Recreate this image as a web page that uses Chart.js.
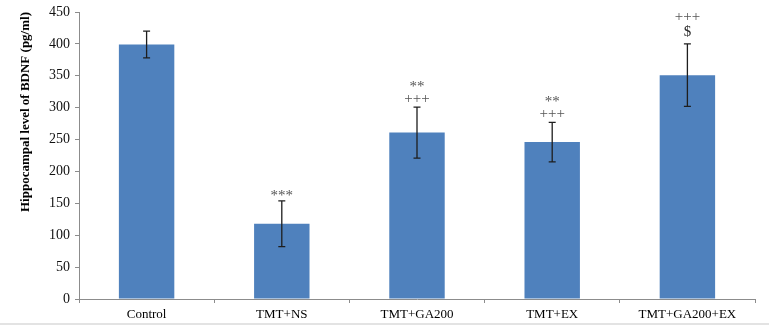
<!DOCTYPE html>
<html lang="en">
<head>
  <meta charset="UTF-8" />
  <title>Hippocampal BDNF</title>
  <script src="https://cdn.jsdelivr.net/npm/chart.js@4.4.3/dist/chart.umd.js"></script>
  <style>
    *{box-sizing:border-box;margin:0;padding:0}
    body{background:#fff;width:769px;height:327px;overflow:hidden;position:relative}
    #wrap{position:absolute;left:0;top:0;width:769px;height:327px}
    .rule{position:absolute;left:0;top:323px;width:769px;height:2px;background:#e3e3e3}
  </style>
</head>
<body>
  <div id="wrap"><canvas id="bdnf" width="769" height="327"></canvas></div>
  <div class="rule"></div>

  <script>
    /* ==== DATA ==== */
    const groups  = ['Control', 'TMT+NS', 'TMT+GA200', 'TMT+EX', 'TMT+GA200+EX'];
    const bdnf    = [399, 118, 261, 246, 351];
    const bdnfErr = [21, 36, 40, 31, 49];
    // significance marks, listed bottom line first
    const marks   = [[], ['***'], ['+++', '**'], ['+++', '**'], ['$', '+++']];
    const yTicks  = [0, 50, 100, 150, 200, 250, 300, 350, 400, 450];

    const SERIF = '"Liberation Serif", "Times New Roman", serif';
    const AXIS_GREY = '#8c8c8c';

    /* ==== error bars + marks ==== */
    const errorBars = {
      id: 'errorBars',
      afterDatasetsDraw(chart){
        const {ctx, scales:{y}} = chart;
        const meta = chart.getDatasetMeta(0);
        ctx.save();
        meta.data.forEach((bar, i) => {
          const x = bar.x;
          const top = y.getPixelForValue(bdnf[i] + bdnfErr[i]);
          const bot = y.getPixelForValue(bdnf[i] - bdnfErr[i]);
          ctx.strokeStyle = '#1e1e1e';
          ctx.lineWidth = 1.3;
          ctx.beginPath();
          ctx.moveTo(x, top); ctx.lineTo(x, bot);
          ctx.moveTo(x - 3.5, top); ctx.lineTo(x + 3.5, top);
          ctx.moveTo(x - 3.5, bot); ctx.lineTo(x + 3.5, bot);
          ctx.stroke();

          ctx.textAlign = 'center';
          ctx.textBaseline = 'middle';
          let yy = top - 8;
          marks[i].forEach((m, k) => {
            const isDollar = m === '$';
            if (isDollar) yy = top - 12;
            ctx.fillStyle = isDollar ? '#2a2a2a' : '#555';
            ctx.font = '15px ' + SERIF;
            const star = m.indexOf('*') >= 0;
            ctx.fillText(m, x, yy + (star ? 3 : 0));
            yy -= 15;
          });
        });
        ctx.restore();
      }
    };

    /* ==== CHART ==== */
    new Chart(document.getElementById('bdnf'), {
      type: 'bar',
      data: {
        labels: groups,
        datasets: [{
          data: bdnf,
          backgroundColor: '#4f81bd',
          borderWidth: 0,
          categoryPercentage: 1,
          barPercentage: 0.41
        }]
      },
      options: {
        responsive: false,
        animation: false,
        layout: {padding: {top: 6, right: 14, left: 0, bottom: 0}},
        plugins: {legend: {display: false}, tooltip: {enabled: false}},
        scales: {
          x: {
            grid: {offset: true, drawOnChartArea: false, tickLength: 4, color: AXIS_GREY},
            border: {color: AXIS_GREY},
            ticks: {color: '#000', padding: 4, font: {family: SERIF, size: 13}, maxRotation: 0},
            afterFit(s){ s.height = 28; }
          },
          y: {
            min: 0, max: 450,
            afterBuildTicks(s){ s.ticks = yTicks.map(v => ({value: v})); },
            grid: {drawOnChartArea: false, tickLength: 4, color: AXIS_GREY},
            border: {color: AXIS_GREY},
            ticks: {color: '#111', padding: 5, font: {family: SERIF, size: 14, lineHeight: 1}},
            title: {
              display: true, align: 'end',
              text: 'Hippocampal level of BDNF (pg/ml)',
              color: '#000',
              font: {family: SERIF, size: 13, weight: 'bold'},
              padding: {top: 18, bottom: 0}
            },
            afterFit(s){ s.width = 79; }
          }
        }
      },
      plugins: [errorBars]
    });
  </script>
</body>
</html>
